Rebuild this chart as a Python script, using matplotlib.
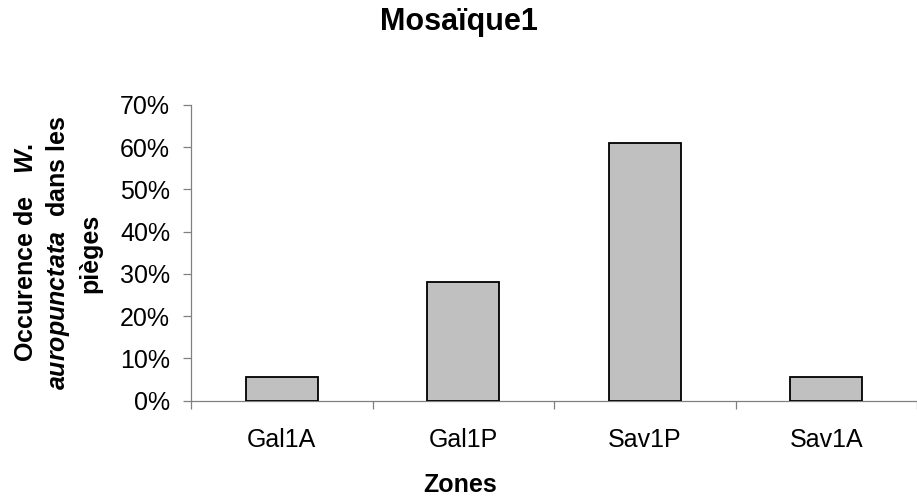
import matplotlib
matplotlib.use('Agg')
import matplotlib.pyplot as plt
from matplotlib.ticker import FixedLocator, FuncFormatter

# values (percent)
zones = ['Gal1A', 'Gal1P', 'Sav1P', 'Sav1A']
occurence = [5.6, 28.0, 61.0, 5.6]
y_ticks = [0, 10, 20, 30, 40, 50, 60, 70]

plt.rcParams['font.family'] = ['Liberation Sans', 'DejaVu Sans']
plt.rcParams['mathtext.fontset'] = 'custom'
plt.rcParams['mathtext.bf'] = 'Liberation Sans:bold'
plt.rcParams['mathtext.it'] = 'Liberation Sans:italic:bold'
plt.rcParams['mathtext.rm'] = 'Liberation Sans:bold'

fig = plt.figure(figsize=(9.17, 4.98), dpi=100)
ax = fig.add_axes([191 / 917, 97.3 / 498, 1 - 191 / 917, 295.7 / 498])

x = list(range(len(zones)))
ax.bar(x, occurence, width=0.395, color='#C0C0C0', edgecolor='black',
       linewidth=1.3, zorder=3)

ax.set_xlim(-0.5, len(zones) - 0.5)
ax.set_ylim(0, 70)

# axes style (Excel look)
for side in ['top', 'right']:
    ax.spines[side].set_visible(False)
for side in ['left', 'bottom']:
    ax.spines[side].set_color('#808080')
    ax.spines[side].set_linewidth(0.9)

ax.set_yticks(y_ticks)
ax.yaxis.set_major_formatter(FuncFormatter(lambda v, p: f'{v:.0f}%'))
ax.tick_params(axis='y', length=6, width=0.9, color='#808080', pad=9,
               labelsize=18)

ax.set_xticks(x)
ax.set_xticklabels(zones)
ax.xaxis.set_minor_locator(FixedLocator([i - 0.5 for i in range(len(zones) + 1)]))
ax.tick_params(axis='x', which='major', length=0, pad=20, labelsize=18)
ax.tick_params(axis='x', which='minor', length=6, width=0.9, color='#808080')

fig.text(0.5, 1 - 22 / 498, 'Mosaïque1', ha='center', va='center',
         fontsize=22, fontweight='bold')
fig.text(460 / 917, 1 - 485 / 498, 'Zones', ha='center', va='center',
         fontsize=18, fontweight='bold')

ylab = ('$\\mathbf{Occurence\\ de\\ \\ \\ }\\mathit{W.}$\n'
        '$\\mathit{auropunctata}\\mathbf{\\ \\ dans\\ les}$\n'
        'pièges')
fig.text(58 / 917, 1 - 253 / 498, ylab, ha='center', va='center',
         rotation=90, fontsize=18, fontweight='bold', multialignment='center',
         linespacing=1.32)

fig.savefig('out.png', dpi=100)
